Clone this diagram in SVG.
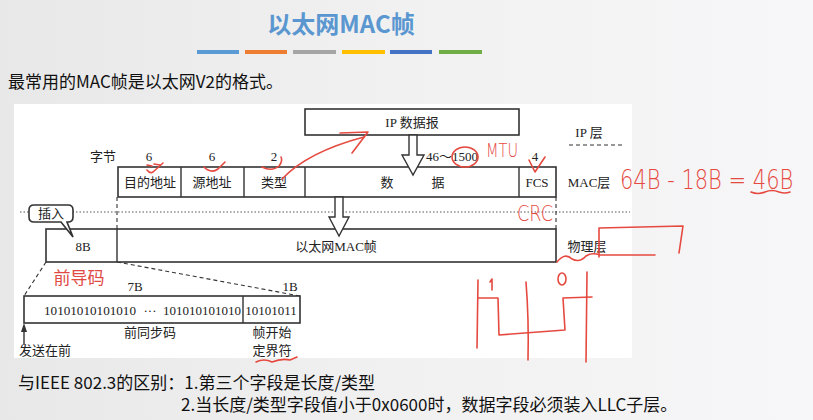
<svg xmlns="http://www.w3.org/2000/svg" width="813" height="420" viewBox="0 0 813 420">
  <defs>
    <linearGradient id="bg" x1="0" y1="0" x2="1" y2="0">
      <stop offset="0" stop-color="#e8e8e8"/>
      <stop offset="0.5" stop-color="#f1f1f1"/>
      <stop offset="1" stop-color="#f7f6f8"/>
    </linearGradient>
    <style>
      .ser { font-family: "Liberation Serif", "Noto Sans CJK SC", serif; font-size: 13px; fill: #222; }
      .sans { font-family: "Noto Sans CJK SC", "Liberation Sans", sans-serif; font-size: 17px; fill: #111; }
      .box { fill: #fff; stroke: #333; stroke-width: 1.6; }
      .div { stroke: #333; stroke-width: 1.4; fill: none; }
      .dash { stroke: #333; stroke-width: 1.1; stroke-dasharray: 4 3; fill: none; }
      .dot { stroke: #555; stroke-width: 1; stroke-dasharray: 1.5 2; fill: none; }
      .hollow { fill: #fff; stroke: #333; stroke-width: 1.4; stroke-linejoin: miter; }
      .ink { stroke: #e5493f; stroke-width: 1.6; fill: none; stroke-linecap: round; stroke-linejoin: round; }
      .inktxt { font-family: "DejaVu Sans", "Liberation Sans", sans-serif; fill: #e5493f; font-weight: 300; }
    </style>
  </defs>

  <!-- page background and white figure panel -->
  <rect x="0" y="0" width="813" height="420" fill="url(#bg)"/>
  <rect x="14" y="104" width="618" height="254" fill="#fff"/>

  <!-- heading -->
  <g id="title">
    <text x="341" y="33" text-anchor="middle" font-family="'Noto Sans CJK SC', sans-serif" font-weight="bold" font-size="24" fill="#5a97d0">以太网MAC帧</text>
    <g>
      <rect x="197" y="50" width="42" height="4" fill="#5b9bd5"/>
      <rect x="245" y="50" width="42" height="4" fill="#ed7d31"/>
      <rect x="293" y="50" width="43" height="4" fill="#a5a5a5"/>
      <rect x="342" y="50" width="43" height="4" fill="#ffc000"/>
      <rect x="390" y="50" width="42" height="4" fill="#4472c4"/>
      <rect x="439" y="50" width="43" height="4" fill="#70ad47"/>
    </g>
  </g>

  <text class="sans" x="8" y="88">最常用的MAC帧是以太网V2的格式。</text>

  <!-- layer boundaries and guide lines -->
  <g id="connectors">
    <line class="dot" x1="20" y1="212" x2="630" y2="212"/>
    <line class="dash" x1="569" y1="145" x2="625" y2="145"/>
    <line class="dash" x1="117" y1="197" x2="117" y2="229"/>
    <line class="dash" x1="556" y1="197" x2="556" y2="229"/>
    <line class="dash" x1="46" y1="262" x2="24" y2="296"/>
    <line class="dash" x1="117" y1="262" x2="300" y2="296"/>
    <line class="div" x1="24" y1="345" x2="24" y2="330"/>
    <polygon points="24,323 21,332 27,332" fill="#333"/>
  </g>

  <!-- IP datagram -->
  <g id="ip-datagram">
    <rect class="box" x="305" y="109" width="214" height="26"/>
    <text class="ser" x="412" y="127" text-anchor="middle">IP 数据报</text>
  </g>

  <!-- MAC frame fields -->
  <g id="mac-frame">
    <rect class="box" x="118" y="167" width="438" height="30"/>
    <line class="div" x1="181" y1="167" x2="181" y2="197"/>
    <line class="div" x1="244" y1="167" x2="244" y2="197"/>
    <line class="div" x1="305" y1="167" x2="305" y2="197"/>
    <line class="div" x1="519" y1="167" x2="519" y2="197"/>
    <text class="ser" x="150" y="187" text-anchor="middle">目的地址</text>
    <text class="ser" x="212" y="187" text-anchor="middle">源地址</text>
    <text class="ser" x="274" y="187" text-anchor="middle">类型</text>
    <text class="ser" x="387" y="187" text-anchor="middle">数</text>
    <text class="ser" x="438" y="187" text-anchor="middle">据</text>
    <text class="ser" x="537" y="187" text-anchor="middle">FCS</text>
    <text class="ser" x="103" y="161" text-anchor="middle">字节</text>
    <text class="ser" x="149" y="161" text-anchor="middle">6</text>
    <text class="ser" x="212" y="161" text-anchor="middle">6</text>
    <text class="ser" x="274" y="161" text-anchor="middle">2</text>
    <text class="ser" x="452" y="161" text-anchor="middle">46～1500</text>
    <text class="ser" x="535" y="161" text-anchor="middle">4</text>
  </g>

  <!-- physical layer frame -->
  <g id="phy-frame">
    <rect class="box" x="46" y="229" width="510" height="33"/>
    <line class="div" x1="117" y1="229" x2="117" y2="262"/>
    <text class="ser" x="83" y="251" text-anchor="middle">8B</text>
    <text class="ser" x="336" y="251" text-anchor="middle">以太网MAC帧</text>
  </g>

  <!-- hollow down arrows -->
  <g id="arrows">
    <polygon class="hollow" points="409,135 417,135 417,155 424,155 413,175 402,155 409,155"/>
    <polygon class="hollow" points="335,197 343,197 343,217 349,217 339,236 329,217 335,217"/>
  </g>

  <!-- callout -->
  <g id="insert-callout">
    <path class="box" stroke-width="1.2" d="M34,205 H68 Q73,205 73,210 V217 Q73,222 68,222 H67 L73,237 L61,222 H34 Q29,222 29,217 V210 Q29,205 34,205 Z"/>
    <text class="ser" x="51" y="218" text-anchor="middle">插入</text>
  </g>

  <!-- layer names -->
  <g id="layers">
    <text class="ser" x="589" y="137" text-anchor="middle">IP 层</text>
    <text class="ser" x="589" y="187" text-anchor="middle">MAC层</text>
    <text class="ser" x="587" y="251" text-anchor="middle">物理层</text>
  </g>

  <!-- preamble -->
  <g id="preamble">
    <text x="79" y="284" text-anchor="middle" font-family="'Noto Sans CJK SC', sans-serif" font-size="17" fill="#e04a42">前导码</text>
    <rect class="box" x="24" y="296" width="276" height="27"/>
    <line class="div" x1="243" y1="296" x2="243" y2="323"/>
    <text class="ser" x="135" y="291" text-anchor="middle">7B</text>
    <text class="ser" x="290" y="291" text-anchor="middle">1B</text>
    <text class="ser" x="44" y="315" textLength="92" lengthAdjust="spacingAndGlyphs">10101010101010</text>
    <text class="ser" x="150" y="315" text-anchor="middle">···</text>
    <text class="ser" x="163" y="315" textLength="78" lengthAdjust="spacingAndGlyphs">101010101010</text>
    <text class="ser" x="271" y="315" text-anchor="middle">10101011</text>
    <text class="ser" x="150" y="337" text-anchor="middle">前同步码</text>
    <text class="ser" x="272" y="337" text-anchor="middle">帧开始</text>
    <text class="ser" x="272" y="355" text-anchor="middle">定界符</text>
    <text class="ser" x="45" y="355" text-anchor="middle">发送在前</text>
  </g>

  <!-- notes -->
  <g id="notes">
    <text class="sans" x="18" y="389">与IEEE 802.3的区别：1.第三个字段是长度/类型</text>
    <text class="sans" x="181" y="411">2.当长度/类型字段值小于0x0600时，数据字段必须装入LLC子层。</text>
  </g>

  <!-- red pen annotations -->
  <g id="annotations">
    <path class="ink" d="M147,170 Q150,174 153,172 L163,163"/>
    <path class="ink" d="M204,167 Q211,174 218,169 L225,162"/>
    <path class="ink" d="M262,167 Q272,172 279,166 Q283,161 281,157"/>
    <path class="ink" d="M282,179 C300,160 330,146 364,137"/>
    <path class="ink" d="M340,133 L368,132 L352,153"/>
    <path class="ink" d="M147,165 L152,166 M154,164 L160,165"/>
    <ellipse class="ink" cx="465" cy="157" rx="13" ry="10"/>
    <text class="inktxt" x="486" y="157" font-size="19" textLength="32" lengthAdjust="spacingAndGlyphs">MTU</text>
    <path class="ink" d="M529,160 L535,172 L545,157"/>
    <text class="inktxt" x="517" y="221" font-size="22" textLength="36" lengthAdjust="spacingAndGlyphs">CRC</text>
    <text class="inktxt" x="620" y="189" font-size="21" transform="matrix(1,0,0,1.25,0,-47.25)">64B - 18B = 46B</text>
    <path class="ink" d="M751,192 Q758,195 765,192 Q772,189 779,192 Q785,194 790,192"/>
    <path class="ink" d="M557,262 Q565,252 572,259 Q580,263 586,256 Q592,252 600,255 L655,255"/>
    <path class="ink" d="M599,257 L599,228 L683,226 L679,253"/>
    <path class="ink" d="M256,362 Q264,358 272,362 Q282,358 290,360 L297,357"/>
    <path class="ink" d="M478,280 L477,348"/>
    <path class="ink" d="M490,282 L492,279 L492,290"/>
    <path class="ink" d="M478,298 L498,298 L499,335 L565,330 L563,298 L592,297"/>
    <path class="ink" d="M526,282 Q529,320 528,360"/>
    <ellipse class="ink" cx="562" cy="279" rx="4" ry="6"/>
    <path class="ink" d="M587,272 L586,362"/>
  </g>
</svg>
